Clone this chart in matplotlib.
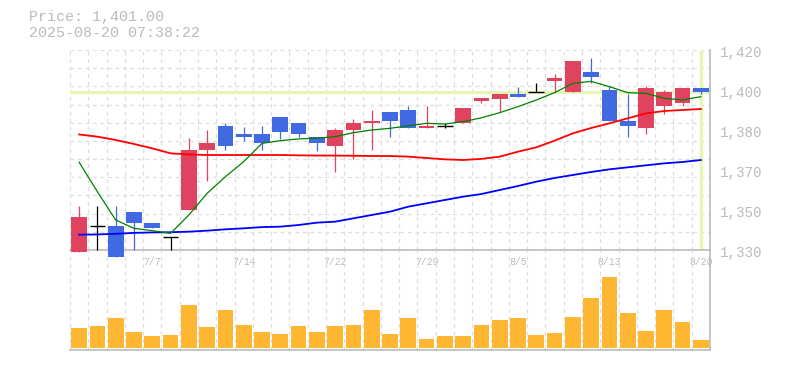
import numpy as np
import matplotlib
matplotlib.use('Agg')
import matplotlib.pyplot as plt
from matplotlib.transforms import ScaledTranslation

# daily candles 7/1 - 8/20
dates = ['7/1', '7/2', '7/3', '7/4', '7/7', '7/8', '7/9', '7/10', '7/11',
         '7/14', '7/15', '7/16', '7/17', '7/18', '7/22', '7/23', '7/24', '7/25',
         '7/28', '7/29', '7/30', '7/31', '8/1', '8/4', '8/5', '8/6', '8/7', '8/8',
         '8/12', '8/13', '8/14', '8/15', '8/18', '8/19', '8/20']
opens = [1329, 1341, 1341, 1347, 1342, 1336, 1348, 1375, 1386, 1382, 1382, 1390,
         1387, 1381, 1377, 1384, 1387, 1392, 1393, 1385, 1386, 1387, 1397, 1398,
         1400, 1401, 1406, 1401, 1410, 1402, 1388, 1385, 1395, 1396, 1403]
highs = [1350, 1350, 1350, 1347, 1342, 1336, 1380.5, 1384, 1387, 1385.5, 1386, 1390,
         1387, 1381, 1385, 1389, 1393, 1392, 1395, 1395, 1387, 1394, 1398.5, 1400,
         1403.5, 1405, 1409, 1415, 1416.5, 1404, 1400, 1404, 1402, 1403, 1403]
lows = [1329, 1330, 1327, 1330, 1340, 1330, 1348, 1361, 1375, 1379, 1375, 1380,
        1381, 1374.5, 1365, 1371, 1375, 1381, 1385, 1385, 1385, 1387, 1396, 1392,
        1399, 1401, 1401, 1401, 1405, 1388, 1381, 1382, 1391, 1395, 1400]
closes = [1345, 1341, 1327, 1342, 1340, 1336, 1375, 1378, 1377, 1381, 1378, 1383,
          1382, 1378, 1384, 1387, 1388, 1388, 1385, 1386, 1386, 1394, 1398.5, 1400,
          1399, 1401, 1407.5, 1415, 1408, 1388, 1386, 1403, 1401, 1403, 1401]

# moving averages
ma_short = [1369.5, 1356.2, 1343.5, 1339.75, 1338.7, 1337.5, 1345.75, 1355.5, 1363,
            1369.75, 1378, 1379.2, 1380, 1380.3, 1381, 1382.8, 1384, 1384.75, 1385.9,
            1387, 1386.7, 1387.75, 1389.5, 1391.8, 1394.5, 1397.5, 1400.8, 1405,
            1405.9, 1403.5, 1400.8, 1400.5, 1398.25, 1397.5, 1399]
ma_mid = [1382, 1381, 1379.5, 1377.7, 1375.75, 1373.5, 1373, 1372.75, 1372.75,
          1372.75, 1372.75, 1372.75, 1372.6, 1372.5, 1372.5, 1372.4, 1372.3, 1372.3,
          1372, 1371.4, 1370.8, 1370.5, 1371, 1372, 1374.25, 1376.2, 1379.2, 1382.5,
          1384.9, 1387, 1389.25, 1391.5, 1392.55, 1393, 1393.45]
ma_long = [1336.9, 1337.0, 1337.3, 1337.7, 1337.9, 1338.0, 1338.25, 1338.7, 1339.3,
           1339.75, 1340.3, 1340.5, 1341.25, 1342.3, 1342.75, 1344.25, 1345.75,
           1347.25, 1349.5, 1351, 1352.5, 1354, 1355.2, 1357, 1358.8, 1360.75, 1362.4,
           1363.75, 1365.1, 1366.3, 1367.2, 1368.1, 1369, 1369.6, 1370.5]

# volume (thousand shares, relative)
volume = [20, 22, 30, 16, 12, 13, 43, 21, 38, 23, 16, 14, 22, 16, 22, 23, 38, 14,
          30, 9, 12, 12, 23, 28, 30, 13, 15, 31, 50, 71, 35, 17, 38, 26, 8]

date_ticks = ['7/7', '7/14', '7/22', '7/29', '8/5', '8/13', '8/20']
last_price = 1401.00
timestamp = '2025-08-20 07:38:22'

gray = '#bbbbbb'
grid_c = '#dddddd'
up_c = '#e0435f'
down_c = '#4169e1'
hl_c = '#e6f5b3'
mono = 'Liberation Mono'

n = len(dates)
x = np.arange(n)
o = np.array(opens); c = np.array(closes)

fig = plt.figure(figsize=(7.85, 3.7), dpi=100)
ax = fig.add_axes([70/785, 120/370, 640/785, 200/370])
axv = fig.add_axes([70/785, 20/370, 640/785, 100/370])
axv.set_facecolor('none')

ymin, ymax = 1330, 1420
ax.set_xlim(-0.5, n - 0.5)
ax.set_ylim(ymin, ymax)

# grid
for gx in np.arange(-0.5, n, 1.0):
    ax.axvline(gx, color=grid_c, lw=0.9, ls=(0, (3, 3)), zorder=0)
    axv.axvline(gx, color=grid_c, lw=0.9, ls=(0, (3, 3)), zorder=0)
for gy in np.linspace(ymin, ymax, 12)[1:]:
    ax.axhline(gy, color=grid_c, lw=0.9, ls=(0, (3, 3)), zorder=0)

# current price / date highlight
ax.axhline(last_price, color=hl_c, lw=2.2, zorder=1)
ax.axvline(n - 1, ymin=0.01, color=hl_c, lw=2.4, zorder=1)

# candles
cols = []
for i in range(n):
    if c[i] > o[i]:
        cols.append(up_c)
    elif c[i] < o[i]:
        cols.append(down_c)
    else:
        cols.append('black')
ax.vlines(x, lows, highs, colors=cols, lw=0.9, zorder=3, clip_on=False)
body_bot = np.minimum(o, c)
body_h = np.abs(c - o)
mask = body_h > 0
ax.bar(x[mask], body_h[mask], bottom=body_bot[mask], width=0.86,
       color=[cols[i] for i in x[mask]], zorder=4, clip_on=False)
doji = ~mask
ax.hlines(o[doji], x[doji] - 0.43, x[doji] + 0.43, colors='black', lw=1.0, zorder=4)

# moving averages
ax.plot(x, ma_long, color='#0000ff', lw=1.3, zorder=5)
ax.plot(x, ma_mid, color='#ff0000', lw=1.3, zorder=5)
ax.plot(x, ma_short, color='#008000', lw=0.9, zorder=5)

# axes styling
for a in (ax, axv):
    a.spines['left'].set_visible(False)
    a.spines['top'].set_visible(False)
    a.spines['right'].set_color(gray)
    a.spines['bottom'].set_color(gray)
    a.spines['right'].set_linewidth(1.2)
    a.spines['bottom'].set_linewidth(1.2)

# price labels on the right (grid is 5 steps, labels rounded to 10)
ax.set_yticks([])
lab_tr = ax.get_yaxis_transform() + ScaledTranslation(10/100, -3/100, fig.dpi_scale_trans)
for v in np.linspace(ymin, ymax, 6):
    ax.text(1, v, f'{int(round(v, -1)):,}', transform=lab_tr, ha='left', va='center',
            fontsize=10.3, color=gray, family=mono)

ax.set_xticks([dates.index(d) for d in date_ticks])
ax.set_xticklabels(date_ticks)
ax.tick_params(axis='x', length=0, pad=5, labelsize=7, labelcolor=gray)
for t in ax.get_xticklabels():
    t.set_fontfamily(mono)

# volume
axv.bar(x, volume, width=0.86, color='#ffb733', zorder=2)
axv.set_xlim(-0.5, n - 0.5)
axv.set_ylim(-2, 98)
axv.set_xticks([])
axv.set_yticks([])

fig.text(29/785, 1 - 17/370, f'Price: {last_price:,.2f}', color=gray, fontsize=10.8,
         family=mono, va='center', ha='left')
fig.text(29/785, 1 - 33/370, timestamp, color=gray, fontsize=10.8,
         family=mono, va='center', ha='left')

fig.savefig('out.png', dpi=100)
